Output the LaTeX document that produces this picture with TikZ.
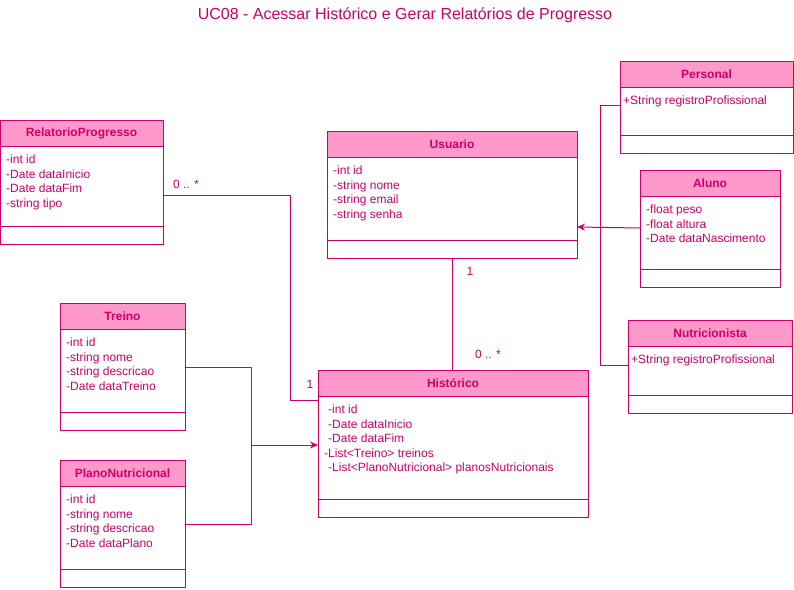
\documentclass[tikz,border=0pt]{standalone}
\usepackage{fontspec}
\setmainfont{Liberation Sans}
\usepackage{tikz}
\usetikzlibrary{arrows.meta, positioning}
\definecolor{umlline}{HTML}{CC0066}
\definecolor{umlfill}{HTML}{FF99CC}
\definecolor{umltext}{HTML}{CC0066}
\tikzset{>/.tip={Stealth[length=8pt,width=7pt]}}
\tikzset{head/.style={draw=umlline, fill=umlfill, line width=1pt, inner sep=0pt, outer sep=0pt,
  minimum height=26pt, text=umltext, font=\fontsize{12}{14.5}\selectfont\bfseries}}
\tikzset{attr/.style={draw=umlline, fill=white, line width=1pt, inner sep=0pt, outer sep=0pt}}
\tikzset{meth/.style={draw=umlline, fill=white, line width=1pt, inner sep=0pt, outer sep=0pt, minimum height=18.5pt}}
\tikzset{items/.style={inner sep=0pt, align=left, text=umltext, font=\fontsize{12}{14.5}\selectfont}}
\tikzset{mult/.style={inner sep=0pt, text=umltext, font=\fontsize{12}{14.5}\selectfont}}
\tikzset{assoc/.style={draw=umlline, line width=1pt}}

\begin{document}
\begin{tikzpicture}[line cap=round,line join=round,x=1pt,y=-1pt]
\useasboundingbox (0,0) rectangle (794,589);

\node[text=umltext, font=\fontsize{16}{19}\selectfont] (title) at (405,15)
 {UC08 - Acessar Histórico e Gerar Relatórios de Progresso};

\node[head, minimum width=163pt, anchor=north west] (relH) at (0,120) {RelatorioProgresso};
\node[attr, minimum width=163pt, minimum height=80pt, below=0pt of relH] (relA) {};
\node[meth, minimum width=163pt, below=0pt of relA] (relM) {};
\node[items, anchor=north west] (relT) at ([xshift=6pt,yshift=-9pt]relA.north west)
 {-int id\\-Date dataInicio\\-Date dataFim\\-string tipo};

\node[head, minimum width=250pt, anchor=north west] (usuH) at (327,131) {Usuario};
\node[attr, minimum width=250pt, minimum height=83pt, below=0pt of usuH] (usuA) {};
\node[meth, minimum width=250pt, below=0pt of usuA] (usuM) {};
\node[items, anchor=north west] (usuT) at ([xshift=6pt,yshift=-9pt]usuA.north west)
 {-int id\\-string nome\\-string email\\-string senha};

\node[head, minimum width=173pt, anchor=north west] (perH) at (620,61) {Personal};
\node[attr, minimum width=173pt, minimum height=48pt, below=0pt of perH] (perA) {};
\node[meth, minimum width=173pt, below=0pt of perA] (perM) {};
\node[items, anchor=north west] (perT) at ([xshift=3pt,yshift=-9pt]perA.north west)
 {+String registroProfissional};

\node[head, minimum width=140pt, anchor=north west] (aluH) at (640,170) {Aluno};
\node[attr, minimum width=140pt, minimum height=73pt, below=0pt of aluH] (aluA) {};
\node[meth, minimum width=140pt, below=0pt of aluA] (aluM) {};
\node[items, anchor=north west] (aluT) at ([xshift=6pt,yshift=-9pt]aluA.north west)
 {-float peso\\-float altura\\-Date dataNascimento};

\node[head, minimum width=164pt, anchor=north west] (nutH) at (628,320) {Nutricionista};
\node[attr, minimum width=164pt, minimum height=49pt, below=0pt of nutH] (nutA) {};
\node[meth, minimum width=164pt, below=0pt of nutA] (nutM) {};
\node[items, anchor=north west] (nutT) at ([xshift=3pt,yshift=-9pt]nutA.north west)
 {+String registroProfissional};

\node[head, minimum width=125pt, anchor=north west] (treH) at (60,303) {Treino};
\node[attr, minimum width=125pt, minimum height=83pt, below=0pt of treH] (treA) {};
\node[meth, minimum width=125pt, below=0pt of treA] (treM) {};
\node[items, anchor=north west] (treT) at ([xshift=6pt,yshift=-9pt]treA.north west)
 {-int id\\-string nome\\-string descricao\\-Date dataTreino};

\node[head, minimum width=125pt, anchor=north west] (plaH) at (60,460) {PlanoNutricional};
\node[attr, minimum width=125pt, minimum height=83pt, below=0pt of plaH] (plaA) {};
\node[meth, minimum width=125pt, below=0pt of plaA] (plaM) {};
\node[items, anchor=north west] (plaT) at ([xshift=6pt,yshift=-9pt]plaA.north west)
 {-int id\\-string nome\\-string descricao\\-Date dataPlano};

\node[head, minimum width=270pt, anchor=north west] (hisH) at (318,370) {Histórico};
\node[attr, minimum width=270pt, minimum height=103pt, below=0pt of hisH] (hisA) {};
\node[meth, minimum width=270pt, below=0pt of hisA] (hisM) {};
\node[items, anchor=north west] (hisT) at ([xshift=6pt,yshift=-9pt]hisA.north west)
 {\hspace{4pt}-int id\\\hspace{4pt}-Date dataInicio\\\hspace{4pt}-Date dataFim\\-List<Treino> treinos\\\hspace{4pt}-List<PlanoNutricional> planosNutricionais};

\coordinate (gen) at ([xshift=23pt,yshift=-28.5pt]usuA.east);
\coordinate (agg) at ([xshift=-67pt,yshift=2.5pt]hisA.west);

\draw[assoc] ([yshift=-9pt]relA.east) -| ([xshift=-28pt,yshift=-4pt]hisA.north west) -- ([yshift=-4pt]hisA.north west);
\draw[assoc] (usuM.south) -- (usuM.south |- hisH.north);
\draw[assoc] ([yshift=6pt]perA.west) -| (gen);
\draw[assoc] ([yshift=5.5pt]nutA.west) -| (gen);
\draw[assoc,->] ([yshift=4.5pt]aluA.west) -- ([yshift=-28.5pt]usuA.east);
\draw[assoc] ([yshift=3.5pt]treA.east) -| (agg);
\draw[assoc] ([yshift=3.5pt]plaA.east) -| (agg);
\draw[assoc,->] (agg) -- ([yshift=2.5pt]hisA.west);

\node[mult] (m1) at (186,184) {0 .. *};
\node[mult] (m2) at (310,384) {1};
\node[mult] (m3) at (470,271) {1};
\node[mult] (m4) at (488,354) {0 .. *};

\end{tikzpicture}
\end{document}
